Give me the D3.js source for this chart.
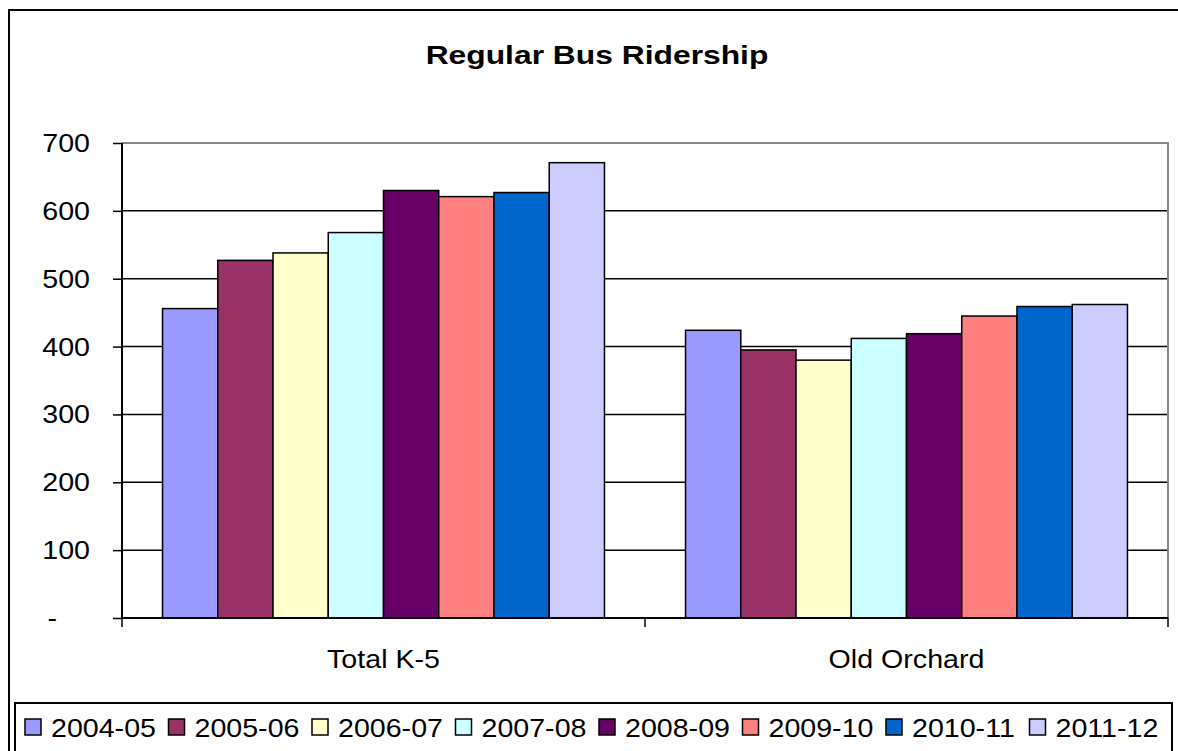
<!DOCTYPE html>
<html>
<head>
<meta charset="utf-8">
<script src="https://cdn.jsdelivr.net/npm/d3@7"></script>
<style>
  body { margin: 0; background: #fff; }
  svg { display: block; font-family: "Liberation Sans", Arial, sans-serif; }
</style>
</head>
<body>
<svg class="chart" width="1178" height="751"></svg>
<script>
const categories = ['Total K-5', 'Old Orchard']
const seasons = ['2004-05', '2005-06', '2006-07', '2007-08', '2008-09', '2009-10', '2010-11', '2011-12']
const totalK5 = [456, 527, 538, 568, 630, 621, 627, 671]
const oldOrchard = [424, 395, 380, 412, 419, 445, 459, 462]
const seasonColors = ['#9999FF', '#993366', '#FFFFCC', '#CCFFFF', '#660066', '#FF8080', '#0066CC', '#CCCCFF']
const yTicks = [0, 100, 200, 300, 400, 500, 600, 700]

const plot = { left: 122, right: 1168, top: 143, bottom: 618 }
const svg = d3.select('svg.chart')

// outer chart frame (cut off at right and bottom like the original)
svg.append('rect')
  .attr('x', 9).attr('y', 10)
  .attr('width', 1200).attr('height', 800)
  .style('fill', '#fff').style('stroke', '#000').style('stroke-width', 2)

const y = d3.scaleLinear().domain([0, 700]).range([plot.bottom, plot.top])
const x0 = d3.scaleBand().domain(categories)
  .range([plot.left, plot.right]).paddingInner(0.155).paddingOuter(0.0775)
const x1 = d3.scaleBand().domain(seasons).range([0, x0.bandwidth()])
const color = d3.scaleOrdinal().domain(seasons).range(seasonColors)

// gridlines
svg.append('g').selectAll('line')
  .data(yTicks.filter(d => d > 0 && d < 700))
  .enter().append('line')
  .attr('x1', plot.left).attr('x2', plot.right)
  .attr('y1', d => y(d)).attr('y2', d => y(d))
  .style('stroke', '#000').style('stroke-width', 1.5)

// plot area border (grey)
svg.append('path')
  .attr('d', `M${plot.left},${plot.top}H${plot.right}V${plot.bottom}`)
  .style('fill', 'none').style('stroke', '#888').style('stroke-width', 2)

// bars
const rows = categories.map((c, i) => ({ cat: c, values: i === 0 ? totalK5 : oldOrchard }))
svg.append('g').selectAll('g')
  .data(rows)
  .enter().append('g')
  .attr('transform', d => `translate(${x0(d.cat)},0)`)
  .selectAll('rect')
  .data(d => d.values.map((v, i) => ({ season: seasons[i], value: v })))
  .enter().append('rect')
  .attr('x', d => x1(d.season))
  .attr('width', x1.bandwidth())
  .attr('y', d => y(d.value))
  .attr('height', d => y(0) - y(d.value))
  .style('fill', d => color(d.season))
  .style('stroke', '#000').style('stroke-width', 1.5)

// y axis
svg.append('g')
  .attr('transform', `translate(${plot.left},0)`)
  .call(d3.axisLeft(y).tickValues(yTicks).tickSize(9).tickFormat(''))
  .call(g => g.select('.domain').attr('d', `M0,${plot.top}V${plot.bottom}`).style('stroke-width', 2))
  .call(g => g.selectAll('.tick line').style('stroke-width', 1.5))

svg.append('g').selectAll('text')
  .data(yTicks)
  .enter().append('text')
  .attr('transform', d => `translate(${d === 0 ? 57 : 90},${y(d) + 9}) scale(1.1,1)`)
  .style('text-anchor', 'end')
  .style('font-size', '26px')
  .text(d => d === 0 ? '-' : d)

// x axis
svg.append('line')
  .attr('x1', plot.left).attr('x2', plot.right)
  .attr('y1', plot.bottom).attr('y2', plot.bottom)
  .style('stroke', '#000').style('stroke-width', 2)

const catEdges = [plot.left, ...categories.map(c => x0(c) + x0.bandwidth() + x0.step() * 0.0775)]
svg.append('g').selectAll('line')
  .data(catEdges)
  .enter().append('line')
  .attr('x1', d => d).attr('x2', d => d)
  .attr('y1', plot.bottom).attr('y2', plot.bottom + 9)
  .style('stroke', '#000').style('stroke-width', 1.5)

svg.append('g').selectAll('text')
  .data(categories)
  .enter().append('text')
  .attr('transform', d => `translate(${x0(d) + x0.bandwidth() / 2},668) scale(1.1,1)`)
  .style('text-anchor', 'middle')
  .style('font-size', '26px')
  .text(d => d)

// title
svg.append('text')
  .attr('transform', 'translate(597,64) scale(1.2,1)')
  .style('text-anchor', 'middle')
  .style('font-size', '26.5px')
  .style('font-weight', 'bold')
  .text('Regular Bus Ridership')

// legend
svg.append('rect')
  .attr('x', 15).attr('y', 703)
  .attr('width', 1157).attr('height', 80)
  .style('fill', '#fff').style('stroke', '#000').style('stroke-width', 2)

const lx = d3.scaleBand().domain(seasons).range([25, 25 + 143.5 * seasons.length])
const item = svg.append('g').selectAll('g')
  .data(seasons)
  .enter().append('g')
  .attr('transform', d => `translate(${lx(d)},0)`)

item.append('rect')
  .attr('x', 0).attr('y', 719)
  .attr('width', 16).attr('height', 16)
  .style('fill', d => color(d))
  .style('stroke', '#000').style('stroke-width', 1.5)

item.append('text')
  .attr('transform', 'translate(26,737) scale(1.1,1)')
  .style('font-size', '26px')
  .text(d => d)
</script>
</body>
</html>
